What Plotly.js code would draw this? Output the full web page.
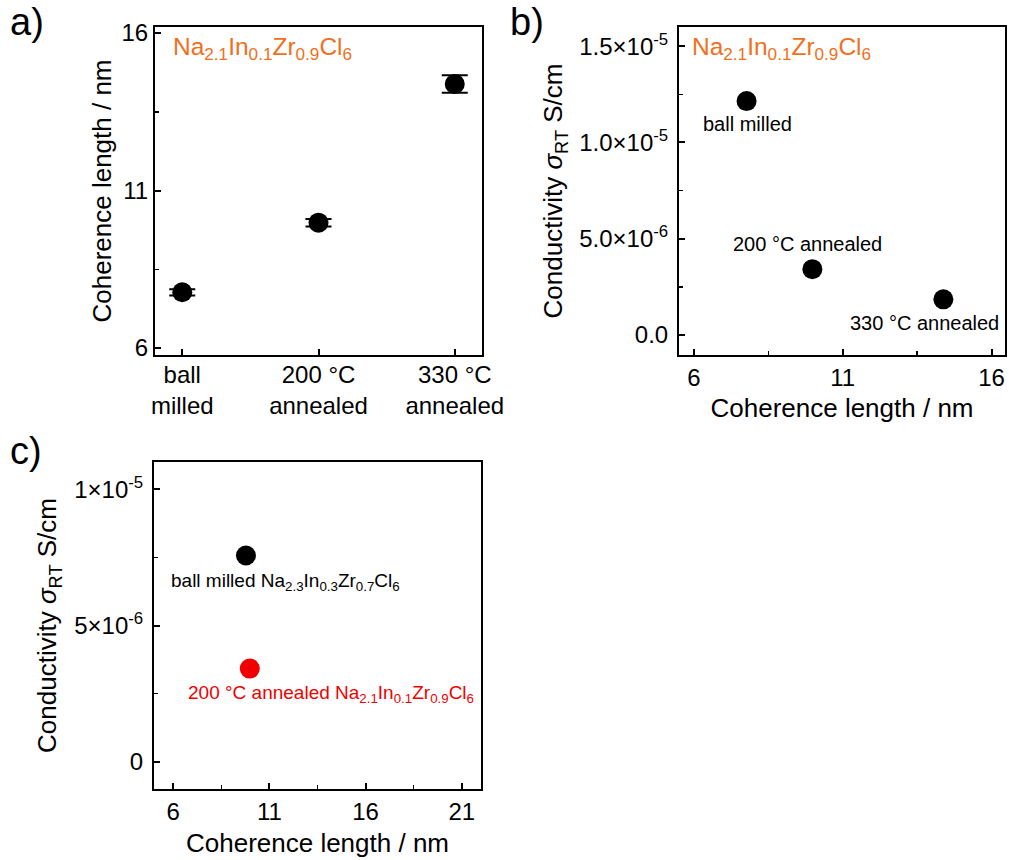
<!DOCTYPE html>
<html>
<head>
<meta charset="utf-8">
<script src="https://cdn.plot.ly/plotly-3.0.1.min.js"></script>
<style>
  html, body { margin: 0; padding: 0; background: #ffffff; }
  #chart { width: 1009px; height: 860px; }
</style>
</head>
<body>
<div id="chart"></div>
<script>
// Samples of Na2.1In0.1Zr0.9Cl6 after different treatments
const sampleCategories = ['ball<br>milled', '200 °C<br>annealed', '330 °C<br>annealed'];
const sampleNames = ['ball milled', '200 °C annealed', '330 °C annealed'];
const coherenceLength = [7.77, 9.98, 14.38];      // nm
const coherenceError = [0.1, 0.12, 0.28];         // nm
const conductivity = [1.215e-5, 3.42e-6, 1.85e-6]; // S/cm

// Comparison of two compositions
const compareLength = [9.78, 9.98];               // nm
const compareConductivity = [7.57e-6, 3.42e-6];   // S/cm
const compareColors = ['#000000', '#f00000'];
const compareNames = [
  'ball milled Na<sub>2.3</sub>In<sub>0.3</sub>Zr<sub>0.7</sub>Cl<sub>6</sub>',
  '200 °C annealed Na<sub>2.1</sub>In<sub>0.1</sub>Zr<sub>0.9</sub>Cl<sub>6</sub>'
];

// Tick labels
const lengthTicks = [6, 11, 16];
const lengthTicksWide = [6, 11, 16, 21];
const condTicksB = [0, 5e-6, 1e-5, 1.5e-5];
const condTickTextB = ['0.0', '5.0×10<sup>-6</sup>', '1.0×10<sup>-5</sup>', '1.5×10<sup>-5</sup>'];
const condTicksC = [0, 5e-6, 1e-5];
const condTickTextC = ['0', '5×10<sup>-6</sup>', '1×10<sup>-5</sup>'];

const formula = 'Na<sub>2.1</sub>In<sub>0.1</sub>Zr<sub>0.9</sub>Cl<sub>6</sub>';
const condTitle = 'Conductivity <i>σ</i><sub>RT</sub> S/cm';
const lengthTitle = 'Coherence length / nm';

const W = 1009, H = 860;
const FONT = 'Liberation Sans, Arial, Helvetica, sans-serif';
const orange = '#f07020';
const TICK = 24, TITLE = 26, NOTE_B = 20, NOTE_C = 19, LETTER = 38;

function px(a, b) { return [a / W, b / W]; }
function py(top, bottom) { return [1 - bottom / H, 1 - top / H]; }

function axisBase(extra) {
  return Object.assign({
    showline: true, mirror: true, linecolor: '#000', linewidth: 2,
    ticks: 'inside', ticklen: 6, tickwidth: 2, tickcolor: '#000',
    showgrid: false, zeroline: false,
    tickfont: {family: FONT, size: TICK, color: '#000'},
    automargin: true, fixedrange: true
  }, extra);
}

const minorLength = {dtick: 2.5, tick0: 6, ticks: 'inside', ticklen: 4, tickwidth: 1.5, tickcolor: '#000'};
const minorCond = {dtick: 2.5e-6, tick0: 0, ticks: 'inside', ticklen: 4, tickwidth: 1.5, tickcolor: '#000'};

const traces = [
  {
    type: 'scatter', mode: 'markers', xaxis: 'x', yaxis: 'y',
    x: sampleCategories, y: coherenceLength,
    error_y: {type: 'data', array: coherenceError, visible: true, color: '#000', thickness: 2, width: 13},
    marker: {color: '#000', size: 20}
  },
  {
    type: 'scatter', mode: 'markers', xaxis: 'x2', yaxis: 'y2',
    x: coherenceLength, y: conductivity,
    marker: {color: '#000', size: 20}
  },
  {
    type: 'scatter', mode: 'markers', xaxis: 'x3', yaxis: 'y3',
    x: compareLength, y: compareConductivity,
    marker: {color: compareColors, size: 20}
  }
];

const annotations = [
  {text: 'a)', xref: 'paper', yref: 'paper', x: 8 / W, y: 1 - 22 / H, xanchor: 'left', yanchor: 'middle', showarrow: false, font: {family: FONT, size: LETTER, color: '#000'}},
  {text: 'b)', xref: 'paper', yref: 'paper', x: 508 / W, y: 1 - 22 / H, xanchor: 'left', yanchor: 'middle', showarrow: false, font: {family: FONT, size: LETTER, color: '#000'}},
  {text: 'c)', xref: 'paper', yref: 'paper', x: 8 / W, y: 1 - 451 / H, xanchor: 'left', yanchor: 'middle', showarrow: false, font: {family: FONT, size: LETTER, color: '#000'}},
  {text: formula, xref: 'x domain', yref: 'y domain', x: 0.05, y: 0.935, xanchor: 'left', yanchor: 'middle', showarrow: false, font: {family: FONT, size: 24.5, color: orange}},
  {text: formula, xref: 'x2 domain', yref: 'y2 domain', x: 0.035, y: 0.935, xanchor: 'left', yanchor: 'middle', showarrow: false, font: {family: FONT, size: 24.5, color: orange}},
  // point labels, panel b
  {text: sampleNames[0], xref: 'x2', yref: 'y2', x: 7.81, y: 1.096e-5, showarrow: false, font: {family: FONT, size: NOTE_B, color: '#000'}},
  {text: sampleNames[1], xref: 'x2', yref: 'y2', x: 9.82, y: 4.72e-6, showarrow: false, font: {family: FONT, size: NOTE_B, color: '#000'}},
  {text: sampleNames[2], xref: 'x2', yref: 'y2', x: 13.76, y: 0.62e-6, showarrow: false, font: {family: FONT, size: NOTE_B, color: '#000'}},
  // point labels, panel c
  {text: compareNames[0], xref: 'x3', yref: 'y3', x: 11.85, y: 6.58e-6, showarrow: false, font: {family: FONT, size: NOTE_C, color: compareColors[0]}},
  {text: compareNames[1], xref: 'x3', yref: 'y3', x: 14.2, y: 2.48e-6, showarrow: false, font: {family: FONT, size: NOTE_C, color: compareColors[1]}}
];

const layout = {
  width: W, height: H,
  margin: {l: 0, r: 0, t: 0, b: 0, autoexpand: false},
  paper_bgcolor: '#fff', plot_bgcolor: '#fff',
  showlegend: false,
  font: {family: FONT, color: '#000'},
  xaxis: axisBase({
    domain: px(155, 482), anchor: 'y', type: 'category',
    range: [-0.2, 2.2], ticklabelstandoff: -3
  }),
  yaxis: axisBase({
    domain: py(27, 355), anchor: 'x',
    range: [5.78, 16.19], tickvals: lengthTicks,
    minor: minorLength,
    title: {text: lengthTitle, font: {family: FONT, size: TITLE}, standoff: 2}
  }),
  xaxis2: axisBase({
    domain: px(679, 1005), anchor: 'y2',
    range: [5.5, 16.45], tickvals: lengthTicks,
    minor: minorLength,
    title: {text: lengthTitle, font: {family: FONT, size: TITLE}, standoff: 9}
  }),
  yaxis2: axisBase({
    domain: py(27, 355), anchor: 'x2',
    range: [-1.04e-6, 1.6e-5], tickvals: condTicksB, ticktext: condTickTextB,
    minor: minorCond, ticklabelstandoff: 4,
    title: {text: condTitle, font: {family: FONT, size: TITLE}, standoff: 9}
  }),
  xaxis3: axisBase({
    domain: px(154, 481), anchor: 'y3',
    range: [5.0, 22.0], tickvals: lengthTicksWide,
    minor: minorLength,
    title: {text: lengthTitle, font: {family: FONT, size: TITLE}, standoff: 10}
  }),
  yaxis3: axisBase({
    domain: py(462, 789), anchor: 'x3',
    range: [-1e-6, 1.1e-5], tickvals: condTicksC, ticktext: condTickTextC,
    minor: minorCond, ticklabelstandoff: 4,
    title: {text: condTitle, font: {family: FONT, size: TITLE}, standoff: 10}
  }),
  annotations: annotations
};

Plotly.newPlot('chart', traces, layout, {staticPlot: true, displayModeBar: false});
</script>
</body>
</html>
